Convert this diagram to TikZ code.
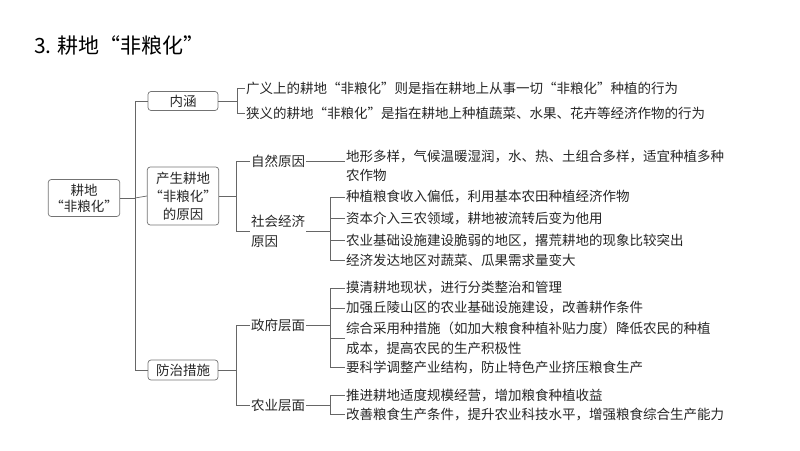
\documentclass[tikz,border=0pt]{standalone}
\usepackage{fontspec}
\setmainfont{Noto Sans CJK SC}
\begin{document}
\begin{tikzpicture}[x=1pt,y=-1pt,
  every node/.style={font=\fontsize{13.5}{17}\selectfont,text=black!85,inner sep=1pt},
  bx/.style={draw=black!55,rounded corners=3pt,minimum width=70pt,align=center,inner sep=2pt,line width=0.7pt},
  tx/.style={anchor=west},
  ln/.style={draw=black!60,line width=0.7pt}]
\useasboundingbox (0,0) rectangle (800,450);
\node[anchor=west,font=\fontsize{21}{24}\selectfont,text=black] (title) at (33,45) {3. 耕地“非粮化”};
\node[bx,minimum width=66pt,minimum height=37pt,font=\fontsize{13.5}{16}\selectfont] (root) at (84,198) {耕地\\“非粮化”};
\node[bx,minimum height=19pt] (nh) at (183,101) {内涵};
\node[bx,minimum height=58pt,font=\fontsize{13.5}{18}\selectfont] (cs) at (183,196) {产生耕地\\“非粮化”\\的原因};
\node[bx,minimum height=20pt] (fz) at (183,370) {防治措施};
\coordinate (t) at (135,198);
\draw[ln] (root.east) -- (t);
\draw[ln] (nh.west) -- (135,101) -- (135,370) -- (fz.west);
\draw[ln] (t) -- (cs.west);
% 内涵
\node[tx] (a1) at (245,88) {广义上的耕地“非粮化”则是指在耕地上从事一切“非粮化”种植的行为};
\node[tx] (a2) at (245,113) {狭义的耕地“非粮化”是指在耕地上种植蔬菜、水果、花卉等经济作物的行为};
\draw[ln] (nh.east) -- (237,101);
\draw[ln] (a1.west) -- (237,88) -- (237,113) -- (a2.west);
% 原因
\node[tx] (zr) at (250,161) {自然原因};
\node[tx,align=left,font=\fontsize{13.5}{20}\selectfont] (sh) at (250,231) {社会经济\\原因};
\draw[ln] (cs.east) -- (236,196);
\draw[ln] (zr.west) -- (236,161) -- (236,231) -- (sh.west);
\node[tx,align=left,font=\fontsize{13.5}{19}\selectfont] (z1) at (345,166) {地形多样，气候温暖湿润，水、热、土组合多样，适宜种植多种\\农作物};
\draw[ln] (zr.east) -- (z1.west|-zr.east);
\node[tx] (s1) at (345,197) {种植粮食收入偏低，利用基本农田种植经济作物};
\node[tx] (s2) at (345,218) {资本介入三农领域，耕地被流转后变为他用};
\node[tx] (s3) at (345,240) {农业基础设施建设脆弱的地区，撂荒耕地的现象比较突出};
\node[tx] (s4) at (345,260) {经济发达地区对蔬菜、瓜果需求量变大};
\draw[ln] (sh.east) -- (330,231);
\draw[ln] (s1.west) -- (330,197) -- (330,260) -- (s4.west);
\draw[ln] (s2.west) -- (330,218);
\draw[ln] (s3.west) -- (330,240);
% 防治
\node[tx] (zf) at (250,325) {政府层面};
\node[tx] (ny) at (250,405) {农业层面};
\draw[ln] (fz.east) -- (236,370);
\draw[ln] (zf.west) -- (236,325) -- (236,405) -- (ny.west);
\node[tx] (g1) at (345,288) {摸清耕地现状，进行分类整治和管理};
\node[tx] (g2) at (345,308) {加强丘陵山区的农业基础设施建设，改善耕作条件};
\node[tx,align=left,font=\fontsize{13.5}{20}\selectfont] (g3) at (345,338) {综合采用种措施（如加大粮食种植补贴力度）降低农民的种植\\成本，提高农民的生产积极性};
\node[tx] (g4) at (345,367) {要科学调整产业结构，防止特色产业挤压粮食生产};
\draw[ln] (zf.east) -- (330,325);
\draw[ln] (g1.west) -- (330,288) -- (330,367) -- (g4.west);
\draw[ln] (g2.west) -- (330,308);
\draw[ln] (g3.west) -- (330,338);
\node[tx] (n1) at (345,395) {推进耕地适度规模经营，增加粮食种植收益};
\node[tx] (n2) at (345,414) {改善粮食生产条件，提升农业科技水平，增强粮食综合生产能力};
\draw[ln] (ny.east) -- (330,405);
\draw[ln] (n1.west) -- (330,395) -- (330,414) -- (n2.west);
\end{tikzpicture}
\end{document}
